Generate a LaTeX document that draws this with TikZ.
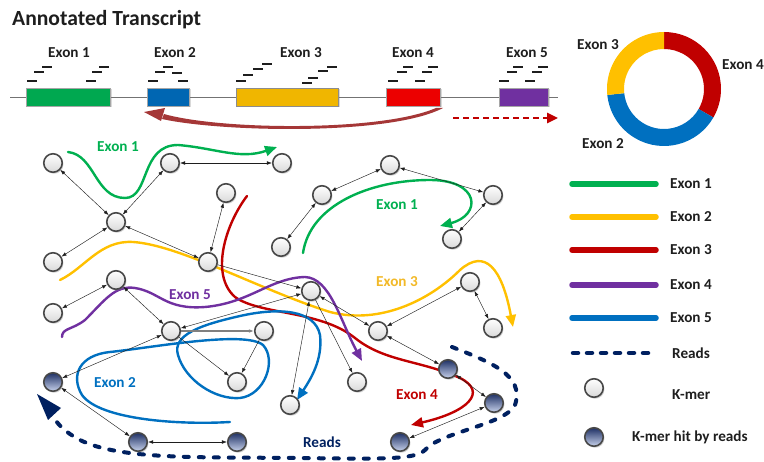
\documentclass[tikz,border=0pt]{standalone}
\usepackage{fontspec}
\setmainfont{Carlito}
\usetikzlibrary{arrows.meta,shadows}
\definecolor{cgreen}{RGB}{0,176,80}
\definecolor{cyellow}{RGB}{255,192,0}
\definecolor{cyellowtxt}{RGB}{242,185,40}
\definecolor{cred}{RGB}{192,0,0}
\definecolor{cpurple}{RGB}{112,48,160}
\definecolor{cblue}{RGB}{0,112,192}
\definecolor{cnavy}{RGB}{0,32,96}
\definecolor{boxgreen}{RGB}{0,168,80}
\definecolor{boxblue}{RGB}{0,102,178}
\definecolor{boxyellow}{RGB}{240,182,0}
\definecolor{boxred}{RGB}{236,0,0}
\definecolor{boxpurple}{RGB}{112,48,160}
\definecolor{swoosh}{RGB}{165,55,55}
\definecolor{hittop}{RGB}{30,48,100}
\definecolor{hitbot}{RGB}{200,210,236}
\definecolor{txt}{RGB}{30,30,30}
\begin{document}
\begin{tikzpicture}[x=1pt,y=-1pt,
  lbl/.style={font=\bfseries\fontsize{15.2}{18}\selectfont, text=txt, inner sep=0pt},
  kmer/.style={circle, minimum size=18.5pt, inner sep=0pt, draw=black!72, line width=1.6pt,
    top color=white, bottom color=black!15,
    drop shadow={shadow xshift=1.2pt, shadow yshift=-1.5pt, opacity=0.35}},
  hit/.style={kmer, top color=hittop, bottom color=hitbot},
  edge/.style={{Latex[length=5pt,width=3.6pt]}-{Latex[length=5pt,width=3.6pt]}, line width=0.45pt, txt},
  oneway/.style={-{Latex[length=5pt,width=3.6pt]}, line width=0.45pt, txt},
  exonpath/.style={line width=2.4pt, line cap=round, -{Triangle[length=12pt,width=10pt]}},
  readspath/.style={line width=4pt, cnavy, line cap=round, dash pattern=on 5pt off 10pt},
  legline/.style={line width=5.5pt, line cap=round},
  bar/.style={line width=2.2pt, txt},
  exonbox/.style={draw=black!35, line width=0.5pt,
    drop shadow={shadow xshift=1.5pt, shadow yshift=-1.5pt, opacity=0.3}},
]
\useasboundingbox (0,0) rectangle (764,462);

% ---------- Title ----------
\node[lbl, anchor=west, font=\bfseries\fontsize{21.6}{25}\selectfont] (title) at (12,20) {Annotated Transcript};

% ---------- Transcript ----------
\draw[black!55, line width=0.8pt] (10,97) -- (558,97);
\path[exonbox, fill=boxgreen] (26,88) rectangle (110,106);
\path[exonbox, fill=boxblue] (147,88) rectangle (189,106);
\path[exonbox, fill=boxyellow, draw=black!45] (236,88) rectangle (338,106);
\path[exonbox, fill=boxred] (386,88) rectangle (440,106);
\path[exonbox, fill=boxpurple] (499,88) rectangle (548,106);

\node[lbl] (t1) at (69,53) {Exon 1};
\node[lbl] (t2) at (175,53) {Exon 2};
\node[lbl] (t3) at (301,53) {Exon 3};
\node[lbl] (t4) at (413,53) {Exon 4};
\node[lbl] (t5) at (527,53) {Exon 5};

% reads bars
\foreach \xa/\y in {27/81,34/72,42/67,86/81,92/72,99/67,
                    148/81,155/72,163/67,172/73,178/81,
                    236/81,243/75,253/69,262/64,302/83,308/78,318/71,327/67,
                    388/81,397/72,403/67,415/81,422/72,428/67,
                    499/81,507/72,513/67,525/81,532/72,538/67}
  \draw[bar] (\xa,\y) -- ++(10,0);

% swoosh arrow Exon4 -> Exon2
\fill[swoosh] (164,114) .. controls (220,130) and (380,132) .. (436,108)
  -- (443,108) .. controls (390,136) and (220,132) .. (162,119) -- cycle;
\fill[swoosh] (144,112) -- (165,108) -- (161,121) -- cycle;

% dashed red arrow
\draw[cred, line width=2.6pt, dash pattern=on 6pt off 4pt, -{Triangle[length=11pt,width=10pt]}] (453,118) -- (558,118);

% ---------- Donut ----------
\begin{scope}[shift={(664,89)}]
  \fill[cred] (-90:57) arc[start angle=-90, end angle=30, radius=57] -- (30:40) arc[start angle=30, end angle=-90, radius=40] -- cycle;
  \fill[cblue] (30:57) arc[start angle=30, end angle=174, radius=57] -- (174:40) arc[start angle=174, end angle=30, radius=40] -- cycle;
  \fill[cyellow] (174:57) arc[start angle=174, end angle=270, radius=57] -- (270:40) arc[start angle=270, end angle=174, radius=40] -- cycle;
\end{scope}
\node[lbl] (d3) at (598,45) {Exon 3};
\node[lbl] (d4) at (743,65) {Exon 4};
\node[lbl] (d2) at (603,144) {Exon 2};

% ---------- Graph: colored paths ----------
\draw[exonpath, cgreen] (68,152) .. controls (95,155) and (95,198) .. (125,198)
  .. controls (150,198) and (140,145) .. (178,145) .. controls (215,148) and (240,160) .. (277,147);
\draw[exonpath, cgreen] (303,253) .. controls (310,205) and (370,180) .. (430,180)
  .. controls (480,180) and (482,215) .. (440,226);
\draw[exonpath, cyellow] (60,280) .. controls (85,268) and (100,240) .. (133,242)
  .. controls (180,245) and (260,290) .. (330,312) .. controls (380,325) and (430,300) .. (460,270)
  .. controls (485,248) and (502,268) .. (513,327);
\draw[exonpath, cred] (247,196) .. controls (225,225) and (210,275) .. (235,297)
  .. controls (260,315) and (320,310) .. (355,338) .. controls (385,362) and (420,360) .. (460,378)
  .. controls (488,392) and (468,412) .. (411,425);
\draw[exonpath, cpurple] (62,337) .. controls (62,328) and (72,330) .. (85,320)
  .. controls (105,300) and (115,285) .. (135,288) .. controls (160,292) and (165,310) .. (205,307)
  .. controls (250,303) and (270,278) .. (305,277) .. controls (330,278) and (340,320) .. (362,361);
\draw[exonpath, cblue] (230,422) .. controls (180,425) and (100,420) .. (82,395)
  .. controls (70,375) and (80,355) .. (110,352) .. controls (150,348) and (245,330) .. (263,345)
  .. controls (277,360) and (265,395) .. (240,398) .. controls (215,400) and (185,380) .. (178,355)
  .. controls (172,335) and (200,325) .. (240,316) .. controls (280,307) and (315,310) .. (320,335)
  .. controls (323,360) and (310,380) .. (297,400);
\draw[readspath] (452,347) .. controls (490,362) and (525,375) .. (515,405)
  .. controls (505,425) and (440,432) .. (425,450) .. controls (415,460) and (380,459) .. (300,458)
  .. controls (200,457) and (120,460) .. (80,440) .. controls (65,432) and (58,425) .. (52,415);
\fill[cnavy] (37,394) -- (61,408) -- (48,420) -- cycle;

\node[lbl, text=cgreen] (g1) at (118,147) {Exon 1};
\node[lbl, text=cgreen] (g1b) at (397,205) {Exon 1};
\node[lbl, text=cyellowtxt] (g3) at (397,282) {Exon 3};
\node[lbl, text=cpurple] (g5) at (190,295) {Exon 5};
\node[lbl, text=cblue] (g2) at (115,383) {Exon 2};
\node[lbl, text=cred] (g4) at (417,395) {Exon 4};
\node[lbl, text=cnavy] (gr) at (322,442) {Reads};

% ---------- Graph: nodes ----------
\node[kmer] (a) at (53,163) {};
\node[kmer] (b) at (170,163) {};
\node[kmer] (c) at (282,163) {};
\node[kmer] (d) at (116,222) {};
\node[kmer] (e) at (226,193) {};
\node[kmer] (f) at (53,262) {};
\node[kmer] (g) at (208,262) {};
\node[kmer] (h) at (116,280) {};
\node[kmer] (i) at (53,313) {};
\node[kmer] (j) at (171,331) {};
\node[kmer] (k) at (264,331) {};
\node[kmer] (l) at (237,382) {};
\node[kmer] (m) at (290,405) {};
\node[kmer] (n) at (311,291) {};
\node[kmer] (o) at (357,382) {};
\node[kmer] (p) at (378,331) {};
\node[kmer] (q) at (390,165) {};
\node[kmer] (r) at (322,195) {};
\node[kmer] (s) at (493,195) {};
\node[kmer] (t) at (281,247) {};
\node[kmer] (u) at (452,239) {};
\node[kmer] (v) at (470,282) {};
\node[kmer] (w) at (493,328) {};
\node[hit] (D1) at (53,382) {};
\node[hit] (D2) at (138,442) {};
\node[hit] (D3) at (237,442) {};
\node[hit] (D4) at (448,369) {};
\node[hit] (D5) at (494,403) {};
\node[hit] (D6) at (400,442) {};

% ---------- Graph: edges ----------
\draw[edge] (a) -- (d);
\draw[edge] (b) -- (d);
\draw[edge] (b) -- (c);
\draw[edge] (d) -- (f);
\draw[edge] (d) -- (g);
\draw[edge] (e) -- (g);
\draw[edge] (h) -- (i);
\draw[edge] (h) -- (j);
\draw[oneway] (g) -- (n);
\draw[edge] (j) -- (n);
\draw[edge] (n) -- (m);
\draw[oneway] (n) -- (o);
\draw[edge] (n) -- (p);
\draw[edge] (p) -- (v);
\draw[edge] (v) -- (w);
\draw[edge] (q) -- (r);
\draw[edge] (q) -- (s);
\draw[edge] (r) -- (t);
\draw[edge] (s) -- (u);
\draw[edge] (j) -- (D1);
\draw[oneway, black!50, line width=1.1pt] (j) -- (k);
\draw[oneway] (j) -- (l);
\draw[oneway] (k) -- (l);
\draw[edge] (D1) -- (D2);
\draw[edge] (D2) -- (D3);
\draw[edge] (p) -- (D4);
\draw[edge] (D4) -- (D5);
\draw[edge] (D5) -- (D6);

% ---------- Legend ----------
\draw[legline, cgreen] (572,184) -- (656,184);
\draw[legline, cyellow] (572,217) -- (656,217);
\draw[legline, cred] (572,250) -- (656,250);
\draw[legline, cpurple] (572,285) -- (656,285);
\draw[legline, cblue] (572,318) -- (656,318);
\draw[line width=4.5pt, cnavy, line cap=round, dash pattern=on 5pt off 9pt] (573,353) -- (656,353);
\node[lbl, anchor=west] (l1) at (670,184) {Exon 1};
\node[lbl, anchor=west] (l2) at (670,217) {Exon 2};
\node[lbl, anchor=west] (l3) at (670,250) {Exon 3};
\node[lbl, anchor=west] (l4) at (670,285) {Exon 4};
\node[lbl, anchor=west] (l5) at (670,318) {Exon 5};
\node[lbl, anchor=west] (l6) at (672,353) {Reads};
\node[kmer] (kL) at (594,388) {};
\node[lbl, anchor=west] (l7) at (672,395) {K-mer};
\node[hit] (dL) at (594,437) {};
\node[lbl, anchor=west] (l8) at (632,437) {K-mer hit by reads};
\end{tikzpicture}
\end{document}
